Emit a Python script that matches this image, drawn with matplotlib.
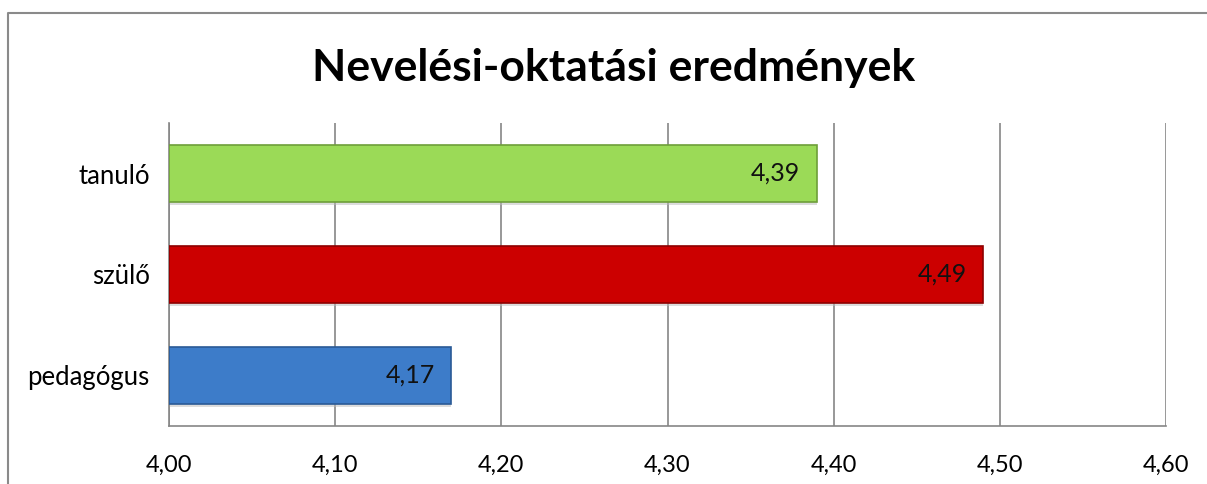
import matplotlib.pyplot as plt
from matplotlib.lines import Line2D

categories = ["pedagógus", "szülő", "tanuló"]
values = [4.17, 4.49, 4.39]
value_labels = ["4,17", "4,49", "4,39"]
colors = ["#3D7CC9", "#CC0000", "#9BDA57"]
edges = ["#2A5A96", "#8E0000", "#6E9E3A"]
xticks = [4.0, 4.1, 4.2, 4.3, 4.4, 4.5, 4.6]
xtick_labels = ["4,00", "4,10", "4,20", "4,30", "4,40", "4,50", "4,60"]

plt.rcParams['font.family'] = ['Lato', 'DejaVu Sans']

W, H = 1207, 484
fig = plt.figure(figsize=(W / 100, H / 100), dpi=100)
ax = fig.add_axes([169 / W, 1 - 426 / H, (1166 - 169) / W, (426 - 123) / H])

# outer chart border (only top and left visible)
fig.add_artist(Line2D([8 / W, 8 / W, 1.0], [0.0, 1 - 13 / H, 1 - 13 / H],
                      transform=fig.transFigure, color="#8a8a8a", lw=1.5))

ypos = range(len(categories))
# shadow
ax.barh([y - 0.03 for y in ypos], [v - 4.0 for v in values], left=4.0, height=0.57,
        color="#bbbbbb", alpha=0.5, zorder=2)
ax.barh(ypos, [v - 4.0 for v in values], left=4.0, height=0.57,
        color=colors, edgecolor=edges, linewidth=1.2, zorder=3)

for y, v, lab in zip(ypos, values, value_labels):
    ax.text(v - 0.01, y, lab, ha="right", va="center", fontsize=18, color="#111111", zorder=4)

ax.set_xlim(4.0, 4.6)
ax.set_ylim(-0.5, 2.5)
ax.set_xticks(xticks)
ax.set_xticklabels(xtick_labels, fontsize=17)
ax.set_yticks(list(ypos))
ax.set_yticklabels(categories, fontsize=18.5)
ax.tick_params(length=0, pad=21, axis="x")
ax.tick_params(length=0, pad=14, axis="y")
ax.grid(axis="x", color="#868686", lw=1.2, zorder=0)
for s in ["top", "right"]:
    ax.spines[s].set_visible(False)
ax.spines["left"].set_color("#868686")
ax.spines["bottom"].set_color("#868686")
ax.spines["left"].set_linewidth(1.2)
ax.spines["bottom"].set_linewidth(1.2)

fig.text(614 / W, 1 - 68 / H, "Nevelési-oktatási eredmények", ha="center", va="center",
         fontsize=32, fontweight="bold")

fig.savefig("out.png", dpi=100)
